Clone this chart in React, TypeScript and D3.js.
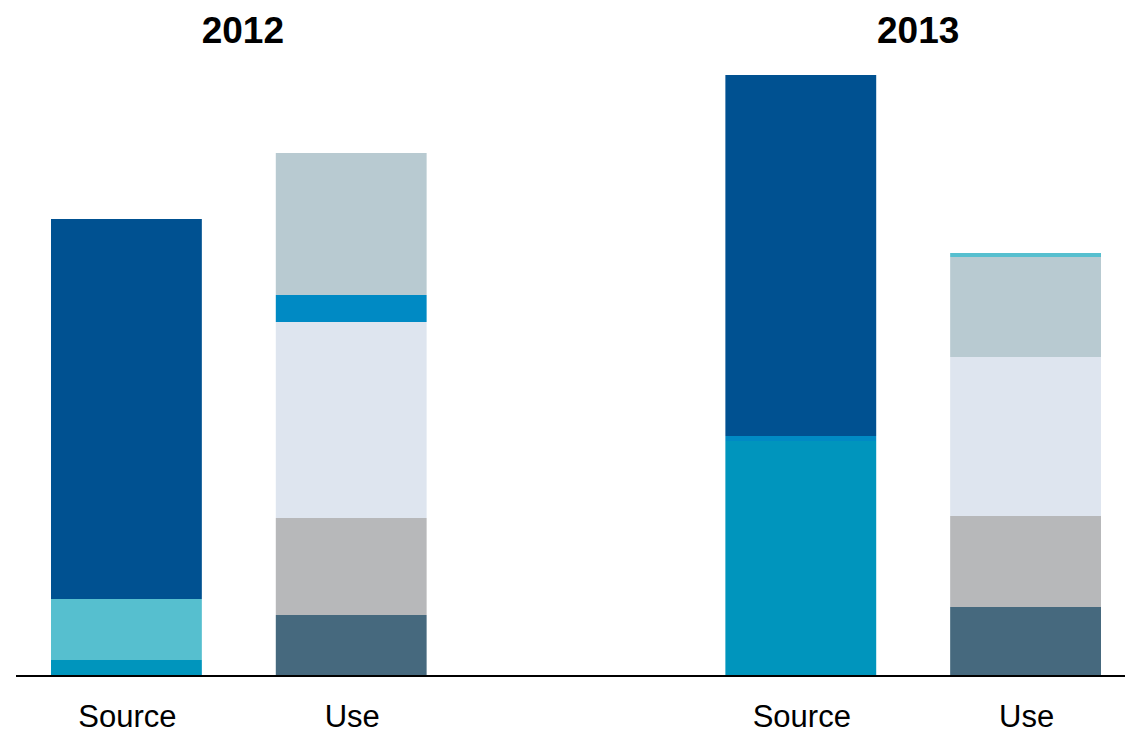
import React from "react";
import * as d3 from "d3";

const years = ["2012", "2013"];
const sides = ["Source", "Use"];

// Source series (bottom to top)
const sourceKeys = ["teal", "lightTeal", "blue", "darkBlue"];
const source2012 = [16, 61, 0, 380];
const source2013 = [235, 0, 5, 361];

// Use series (bottom to top)
const useKeys = ["slate", "gray", "pale", "blue", "grayBlue", "lightTeal"];
const use2012 = [61, 97, 196, 27, 142, 0];
const use2013 = [69, 91, 159, 0, 100, 4];

const colors: Record<string, string> = {
  teal: "#0095bd",
  lightTeal: "#56bfcf",
  blue: "#008ac4",
  darkBlue: "#005191",
  slate: "#46697e",
  gray: "#b7b8ba",
  pale: "#dee5ef",
  grayBlue: "#b8cad1",
};

export default function App() {
  const W = 1125, H = 730;
  const baseY = 676;
  const y = d3.scaleLinear().domain([0, 601]).range([baseY, 75]);
  const xOuter = d3.scaleBand<string>().domain(years).range([51, 1101]).paddingInner(0.443).paddingOuter(0);
  const xInner = d3.scaleBand<string>().domain(sides).range([0, xOuter.bandwidth()]).paddingInner(0.329).paddingOuter(0);

  const data: Record<string, Record<string, { keys: string[]; vals: number[] }>> = {
    "2012": { Source: { keys: sourceKeys, vals: source2012 }, Use: { keys: useKeys, vals: use2012 } },
    "2013": { Source: { keys: sourceKeys, vals: source2013 }, Use: { keys: useKeys, vals: use2013 } },
  };

  const rects: React.ReactNode[] = [];
  years.forEach((yr) => {
    sides.forEach((sd) => {
      const { keys, vals } = data[yr][sd];
      const x0 = (xOuter(yr) ?? 0) + (xInner(sd) ?? 0);
      let cum = 0;
      vals.forEach((v, i) => {
        if (v <= 0) return;
        const yTop = y(cum + v);
        const yBot = y(cum);
        rects.push(
          <rect key={`${yr}-${sd}-${i}`} x={x0} y={yTop} width={xInner.bandwidth()} height={yBot - yTop} fill={colors[keys[i]]} />
        );
        cum += v;
      });
    });
  });

  return (
    <svg width={W} height={H} style={{ position: "absolute", left: 0, top: 0, fontFamily: "'Liberation Sans', Arial, sans-serif" }}>
      <rect x={0} y={0} width={W} height={H} fill="#fff" />
      {rects}
      <line x1={16} x2={W} y1={baseY} y2={baseY} stroke="#000" strokeWidth={2} />
      {years.map((yr, i) => (
        <text key={yr} x={(xOuter(yr) ?? 0) + xOuter.bandwidth() / 2 + (i === 0 ? 4 : 5)} y={43} textAnchor="middle" fontSize={37} fontWeight="bold" fill="#000">
          {yr}
        </text>
      ))}
      {years.map((yr) =>
        sides.map((sd) => (
          <text key={yr + sd} x={(xOuter(yr) ?? 0) + (xInner(sd) ?? 0) + xInner.bandwidth() / 2 + 1} y={727} textAnchor="middle" fontSize={31} fill="#000">
            {sd}
          </text>
        ))
      )}
    </svg>
  );
}
